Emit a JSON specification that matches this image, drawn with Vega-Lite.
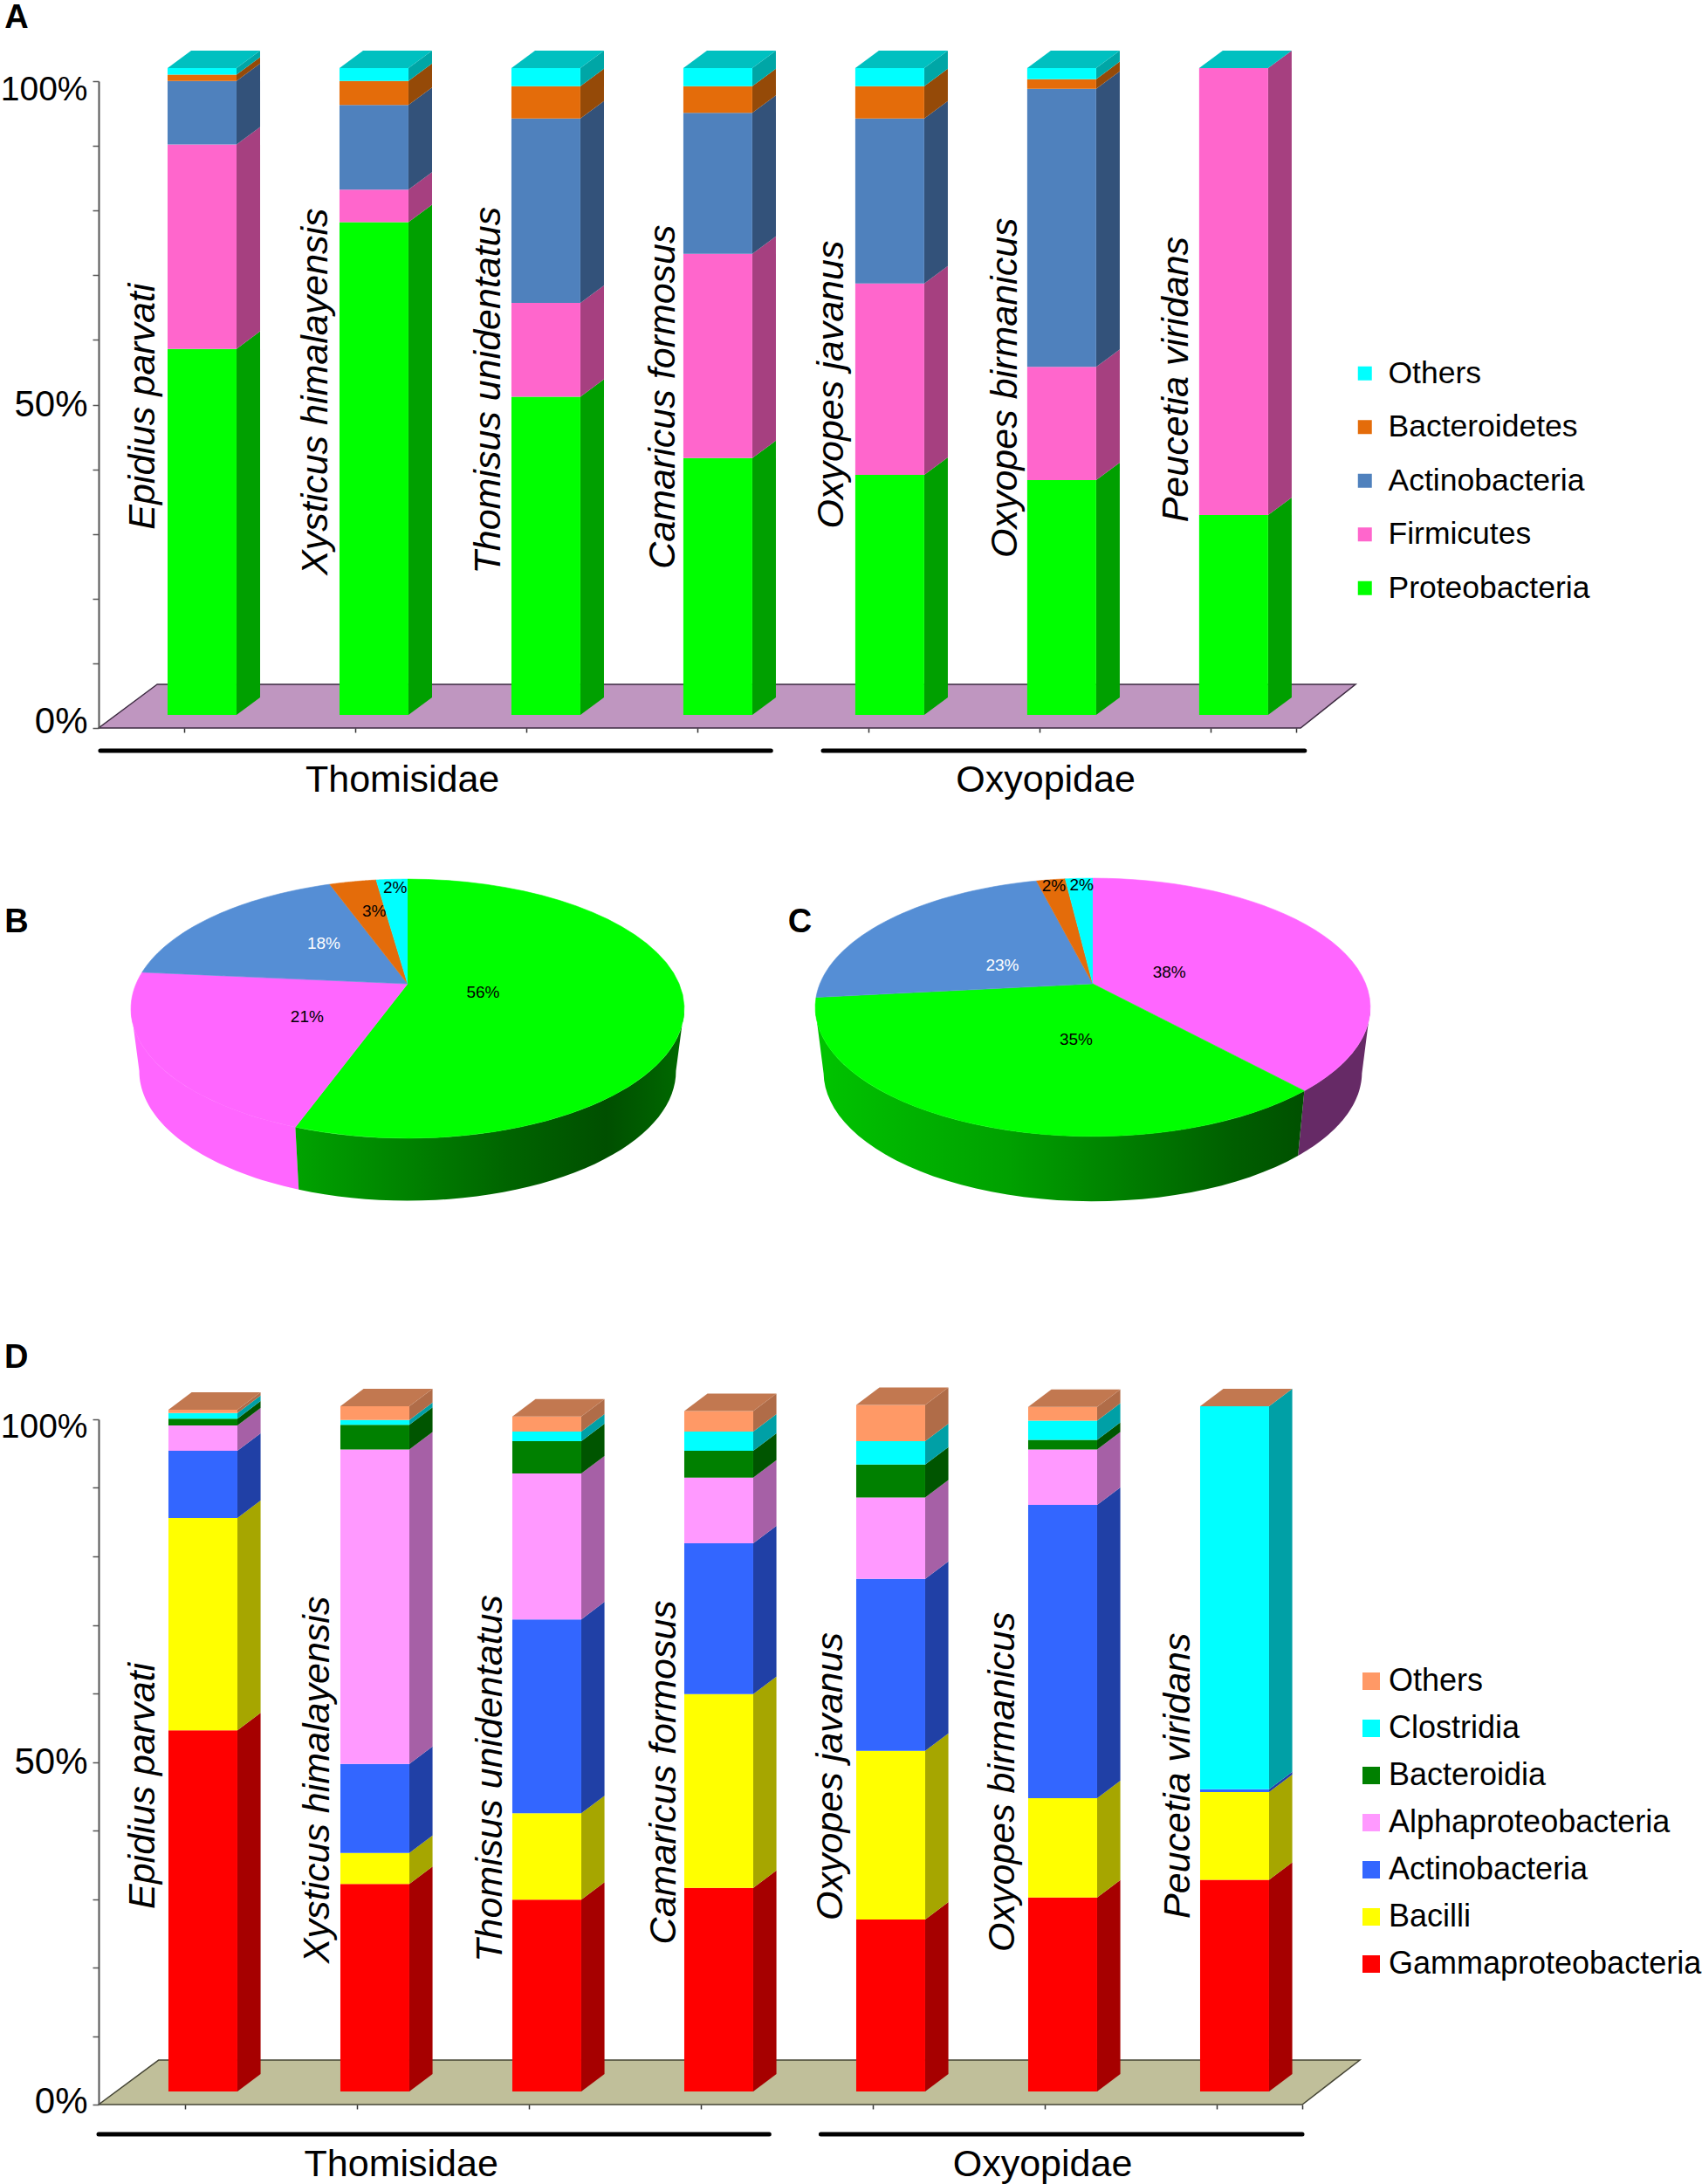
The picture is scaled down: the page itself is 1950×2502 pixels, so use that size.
{"$schema":"https://vega.github.io/schema/vega-lite/v6.json","padding":{"left":0,"top":2,"right":0,"bottom":0},"spacing":0,
"resolve":{"scale":{"fill":"independent","color":"independent","stroke":"independent"},"legend":{"fill":"independent"}},
"config":{"font":"Liberation Sans","view":{"stroke":null},"axis":{"grid":false}},
"datasets":{
"barsA":[
{"species":"Epidius parvati","taxon":"Proteobacteria","value":56.6},{"species":"Epidius parvati","taxon":"Firmicutes","value":31.6},{"species":"Epidius parvati","taxon":"Actinobacteria","value":9.8},{"species":"Epidius parvati","taxon":"Bacteroidetes","value":1.0},{"species":"Epidius parvati","taxon":"Others","value":1.0},
{"species":"Xysticus himalayensis","taxon":"Proteobacteria","value":76.2},{"species":"Xysticus himalayensis","taxon":"Firmicutes","value":5.0},{"species":"Xysticus himalayensis","taxon":"Actinobacteria","value":13.1},{"species":"Xysticus himalayensis","taxon":"Bacteroidetes","value":3.7},{"species":"Xysticus himalayensis","taxon":"Others","value":2.0},
{"species":"Thomisus unidentatus","taxon":"Proteobacteria","value":49.2},{"species":"Thomisus unidentatus","taxon":"Firmicutes","value":14.5},{"species":"Thomisus unidentatus","taxon":"Actinobacteria","value":28.5},{"species":"Thomisus unidentatus","taxon":"Bacteroidetes","value":5.0},{"species":"Thomisus unidentatus","taxon":"Others","value":2.8},
{"species":"Camaricus formosus","taxon":"Proteobacteria","value":39.7},{"species":"Camaricus formosus","taxon":"Firmicutes","value":31.6},{"species":"Camaricus formosus","taxon":"Actinobacteria","value":21.8},{"species":"Camaricus formosus","taxon":"Bacteroidetes","value":4.1},{"species":"Camaricus formosus","taxon":"Others","value":2.8},
{"species":"Oxyopes javanus","taxon":"Proteobacteria","value":37.1},{"species":"Oxyopes javanus","taxon":"Firmicutes","value":29.6},{"species":"Oxyopes javanus","taxon":"Actinobacteria","value":25.5},{"species":"Oxyopes javanus","taxon":"Bacteroidetes","value":5.0},{"species":"Oxyopes javanus","taxon":"Others","value":2.8},
{"species":"Oxyopes birmanicus","taxon":"Proteobacteria","value":36.3},{"species":"Oxyopes birmanicus","taxon":"Firmicutes","value":17.5},{"species":"Oxyopes birmanicus","taxon":"Actinobacteria","value":43.0},{"species":"Oxyopes birmanicus","taxon":"Bacteroidetes","value":1.5},{"species":"Oxyopes birmanicus","taxon":"Others","value":1.7},
{"species":"Peucetia viridans","taxon":"Proteobacteria","value":30.9},{"species":"Peucetia viridans","taxon":"Firmicutes","value":69.1}],
"barsD":[
{"species":"Epidius parvati","taxon":"Gammaproteobacteria","value":52.7},{"species":"Epidius parvati","taxon":"Bacilli","value":31.0},{"species":"Epidius parvati","taxon":"Actinobacteria","value":9.8},{"species":"Epidius parvati","taxon":"Alphaproteobacteria","value":3.7},{"species":"Epidius parvati","taxon":"Bacteroidia","value":1.0},{"species":"Epidius parvati","taxon":"Clostridia","value":0.8},{"species":"Epidius parvati","taxon":"Others","value":0.5},
{"species":"Xysticus himalayensis","taxon":"Gammaproteobacteria","value":30.3},{"species":"Xysticus himalayensis","taxon":"Bacilli","value":4.5},{"species":"Xysticus himalayensis","taxon":"Actinobacteria","value":13.0},{"species":"Xysticus himalayensis","taxon":"Alphaproteobacteria","value":45.9},{"species":"Xysticus himalayensis","taxon":"Bacteroidia","value":3.6},{"species":"Xysticus himalayensis","taxon":"Clostridia","value":0.7},{"species":"Xysticus himalayensis","taxon":"Others","value":2.0},
{"species":"Thomisus unidentatus","taxon":"Gammaproteobacteria","value":28.0},{"species":"Thomisus unidentatus","taxon":"Bacilli","value":12.6},{"species":"Thomisus unidentatus","taxon":"Actinobacteria","value":28.3},{"species":"Thomisus unidentatus","taxon":"Alphaproteobacteria","value":21.3},{"species":"Thomisus unidentatus","taxon":"Bacteroidia","value":4.7},{"species":"Thomisus unidentatus","taxon":"Clostridia","value":1.4},{"species":"Thomisus unidentatus","taxon":"Others","value":2.2},
{"species":"Camaricus formosus","taxon":"Gammaproteobacteria","value":29.7},{"species":"Camaricus formosus","taxon":"Bacilli","value":28.3},{"species":"Camaricus formosus","taxon":"Actinobacteria","value":22.0},{"species":"Camaricus formosus","taxon":"Alphaproteobacteria","value":9.6},{"species":"Camaricus formosus","taxon":"Bacteroidia","value":3.9},{"species":"Camaricus formosus","taxon":"Clostridia","value":2.8},{"species":"Camaricus formosus","taxon":"Others","value":3.0},
{"species":"Oxyopes javanus","taxon":"Gammaproteobacteria","value":25.1},{"species":"Oxyopes javanus","taxon":"Bacilli","value":24.6},{"species":"Oxyopes javanus","taxon":"Actinobacteria","value":25.1},{"species":"Oxyopes javanus","taxon":"Alphaproteobacteria","value":11.9},{"species":"Oxyopes javanus","taxon":"Bacteroidia","value":4.8},{"species":"Oxyopes javanus","taxon":"Clostridia","value":3.4},{"species":"Oxyopes javanus","taxon":"Others","value":5.3},
{"species":"Oxyopes birmanicus","taxon":"Gammaproteobacteria","value":28.3},{"species":"Oxyopes birmanicus","taxon":"Bacilli","value":14.5},{"species":"Oxyopes birmanicus","taxon":"Actinobacteria","value":42.8},{"species":"Oxyopes birmanicus","taxon":"Alphaproteobacteria","value":8.1},{"species":"Oxyopes birmanicus","taxon":"Bacteroidia","value":1.4},{"species":"Oxyopes birmanicus","taxon":"Clostridia","value":2.8},{"species":"Oxyopes birmanicus","taxon":"Others","value":2.0},
{"species":"Peucetia viridans","taxon":"Gammaproteobacteria","value":30.9},{"species":"Peucetia viridans","taxon":"Bacilli","value":12.8},{"species":"Peucetia viridans","taxon":"Actinobacteria","value":0.4},{"species":"Peucetia viridans","taxon":"Clostridia","value":55.9}],
"pieB":[{"taxon":"Proteobacteria","value":55.5},{"taxon":"Firmicutes","value":21.0},{"taxon":"Actinobacteria","value":18.0},{"taxon":"Bacteroidetes","value":3.3},{"taxon":"Others","value":2.2}],
"pieC":[{"taxon":"Firmicutes","value":38.3},{"taxon":"Proteobacteria","value":35.0},{"taxon":"Actinobacteria","value":22.8},{"taxon":"Bacteroidetes","value":2.0},{"taxon":"Others","value":1.9}],
"families":[{"family":"Thomisidae"},{"family":"Oxyopidae"}],
"floor":[{"edge":"front"},{"edge":"back"}]
},
"vconcat":[
{"width":1372,"height":741,"data":{"name":"barsA"},
"transform":[
{"calculate":"indexof(['Proteobacteria','Firmicutes','Actinobacteria','Bacteroidetes','Others'],datum.taxon)","as":"rank"},
{"stack":"value","groupby":["species"],"sort":[{"field":"rank","order":"ascending"}],"as":["y0","y1"]},
{"calculate":"indexof(['Epidius parvati','Xysticus himalayensis','Thomisus unidentatus','Camaricus formosus','Oxyopes javanus','Oxyopes birmanicus','Peucetia viridans'],datum.species)","as":"i"},
{"calculate":"0.403+datum.i*1.005","as":"x0"},{"calculate":"datum.x0+0.403","as":"x1"}],
"layer":[
{"data":{"name":"floor"},"transform":[{"calculate":"datum.edge==='front'?0:6.75","as":"fy"},{"calculate":"datum.edge==='front'?0:0.342","as":"fa"},{"calculate":"datum.edge==='front'?7.026:7.347","as":"fb"}],
"mark":{"type":"area","orient":"horizontal","color":"#bf96c0","stroke":"#3c2a40","strokeWidth":1.5},
"encoding":{"x":{"field":"fa","type":"quantitative","scale":{"domain":[0,7],"nice":false,"zero":false},"axis":{"title":null}},"x2":{"field":"fb"},"y":{"field":"fy","type":"quantitative","scale":{"domain":[0,100],"nice":false,"zero":false},"axis":{"title":null}}}},
{"transform":[{"calculate":"[0,1]","as":"c"},{"flatten":["c"]},{"calculate":"datum.x1+datum.c*0.138","as":"sx"},{"calculate":"datum.y0+2.02+datum.c*2.7","as":"sy0"},{"calculate":"datum.y1+2.02+datum.c*2.7","as":"sy1"}],
"mark":{"type":"area"},
"encoding":{"x":{"field":"sx","type":"quantitative","scale":{"domain":[0,7],"nice":false,"zero":false},"axis":{"title":null}},"y":{"field":"sy0","type":"quantitative","scale":{"domain":[0,100],"nice":false,"zero":false},"axis":{"title":null}},"y2":{"field":"sy1"},"detail":{"field":"species"},
"color":{"field":"taxon","type":"nominal","legend":null,"scale":{"domain":["Proteobacteria","Firmicutes","Actinobacteria","Bacteroidetes","Others"],"range":["#00a000","#a64080","#33527a","#954a08","#00a6a6"]}}}},
{"transform":[{"calculate":"datum.y0+2.02","as":"fy0"},{"calculate":"datum.y1+2.02","as":"fy1"}],
"mark":{"type":"rect"},
"encoding":{"x":{"field":"x0","type":"quantitative","scale":{"domain":[0,7],"nice":false,"zero":false},"axis":{"title":null,"values":[0.5,1.5,2.5,3.5,4.5,5.5,6.5,7],"labels":false,"domain":false,"tickSize":5,"tickColor":"#333333","tickWidth":1.5}},"x2":{"field":"x1"},"y":{"field":"fy0","type":"quantitative","scale":{"domain":[0,100],"nice":false,"zero":false},"axis":{"title":null,"values":[0,10,20,30,40,50,60,70,80,90,100],"labelExpr":"datum.value%50===0?datum.value+'%':''","labelOverlap":false,"labelBound":false,"labelFontSize":{"condition":{"test":"datum.value===100","value":39},"value":42},"labelColor":"black","labelPadding":6,"tickSize":7,"tickColor":"#555555","tickWidth":1.5,"domainColor":"#555555","domainWidth":2,"zindex":1,"labelOffset":{"expr":"datum.value===100?9:datum.value===0?-8:0"}}},"y2":{"field":"fy1"},
"fill":{"field":"taxon","type":"nominal","scale":{"domain":["Others","Bacteroidetes","Actinobacteria","Firmicutes","Proteobacteria"],"range":["#00ffff","#e46c0a","#4f81bd","#ff66cc","#00ff00"]},"legend":{"title":null,"orient":"none","legendX":1433,"legendY":317,"symbolType":"square","symbolSize":256,"symbolStrokeWidth":0,"labelFontSize":35.5,"labelColor":"black","labelLimit":500,"rowPadding":24.5,"labelOffset":9}}}},
{"transform":[{"joinaggregate":[{"op":"max","field":"y1","as":"top"}],"groupby":["species"]},{"filter":"datum.y1===datum.top"},{"calculate":"[0,1]","as":"c"},{"flatten":["c"]},{"calculate":"datum.top+2.02+datum.c*2.7","as":"cy"},{"calculate":"datum.x0+datum.c*0.138","as":"ca"},{"calculate":"datum.x1+datum.c*0.138","as":"cb"}],
"mark":{"type":"area","orient":"horizontal","color":"#00c0c0"},
"encoding":{"x":{"field":"ca","type":"quantitative","scale":{"domain":[0,7],"nice":false,"zero":false},"axis":{"title":null}},"x2":{"field":"cb"},"y":{"field":"cy","type":"quantitative","scale":{"domain":[0,100],"nice":false,"zero":false},"axis":{"title":null}},"detail":{"field":"species"}}},
{"transform":[{"filter":"datum.rank===0"},{"calculate":"[0.262,1.272,2.283,3.299,4.284,5.301,6.303][datum.i]","as":"tx"},{"calculate":"[49.7,52,52.2,51.2,53.1,52.6,53.9][datum.i]","as":"ty"}],
"mark":{"type":"text","angle":270,"fontStyle":"italic","fontSize":43,"align":"center","baseline":"middle","color":"black"},
"encoding":{"x":{"field":"tx","type":"quantitative","scale":{"domain":[0,7],"nice":false,"zero":false},"axis":{"title":null}},"y":{"field":"ty","type":"quantitative","scale":{"domain":[0,100],"nice":false,"zero":false},"axis":{"title":null}},"text":{"field":"species"}}},
{"data":{"name":"families"},"transform":[{"calculate":"datum.family==='Thomisidae'?0.01:4.235","as":"a"},{"calculate":"datum.family==='Thomisidae'?3.93:7.05","as":"b"},{"calculate":"-3.5","as":"ry"}],
"mark":{"type":"rule","strokeWidth":5,"strokeCap":"round","color":"black"},
"encoding":{"x":{"field":"a","type":"quantitative","scale":{"domain":[0,7],"nice":false,"zero":false},"axis":{"title":null}},"x2":{"field":"b"},"y":{"field":"ry","type":"quantitative","scale":{"domain":[0,100],"nice":false,"zero":false},"axis":{"title":null}}}},
{"data":{"name":"families"},"transform":[{"calculate":"datum.family==='Thomisidae'?1.776:5.536","as":"tx"},{"calculate":"-8.1","as":"ty"}],
"mark":{"type":"text","fontSize":43,"align":"center","baseline":"middle","color":"black"},
"encoding":{"x":{"field":"tx","type":"quantitative","scale":{"domain":[0,7],"nice":false,"zero":false},"axis":{"title":null}},"y":{"field":"ty","type":"quantitative","scale":{"domain":[0,100],"nice":false,"zero":false},"axis":{"title":null}},"text":{"field":"family"}}},
{"data":{"values":[{"panel":"A"}]},
"mark":{"type":"text","fontSize":38,"fontWeight":"bold","align":"left","baseline":"alphabetic","color":"black"},
"encoding":{"x":{"datum":-0.55,"type":"quantitative","scale":{"domain":[0,7],"nice":false,"zero":false},"axis":{"title":null}},"y":{"datum":108.2,"type":"quantitative","scale":{"domain":[0,100],"nice":false,"zero":false},"axis":{"title":null}},"text":{"field":"panel"}}}
]},
{"width":1600,"height":620,
"layer":[
{"data":{"name":"pieB"},"transform":[{"stack":"value","groupby":[],"as":["v0","v1"]},{"filter":"datum.taxon==='Firmicutes'"},{"calculate":"max(datum.v0*3.6,101)","as":"a0"},{"calculate":"min(datum.v1*3.6,259)","as":"a1"},{"calculate":"sequence(0,82)","as":"p"},{"flatten":["p"]},{"calculate":"PI/180*(datum.p<=40?datum.a0+(datum.a1-datum.a0)*datum.p/40:datum.a1-(datum.a1-datum.a0)*(datum.p-41)/40)","as":"th"},{"calculate":"0.997*(datum.p<=40?1:0.97)*sin(datum.th)/(1+0.192*cos(datum.th))","as":"X"},{"calculate":"cos(datum.th)/(1+0.192*cos(datum.th))-(datum.p<=40?0:0.5)","as":"Y"}],
"mark":{"type":"line","fill":"#ff66ff","strokeWidth":0},
"encoding":{"x":{"field":"X","type":"quantitative","scale":{"domain":[-1.1346,3.9936],"nice":false,"zero":false},"axis":null},"y":{"field":"Y","type":"quantitative","scale":{"domain":[-2.867,1.469],"nice":false,"zero":false},"axis":null},"order":{"field":"p","type":"quantitative"}}},
{"data":{"name":"pieB"},"transform":[{"stack":"value","groupby":[],"as":["v0","v1"]},{"filter":"datum.taxon==='Proteobacteria'"},{"calculate":"max(datum.v0*3.6,101)","as":"a0"},{"calculate":"min(datum.v1*3.6,259)","as":"a1"},{"calculate":"sequence(0,82)","as":"p"},{"flatten":["p"]},{"calculate":"PI/180*(datum.p<=40?datum.a0+(datum.a1-datum.a0)*datum.p/40:datum.a1-(datum.a1-datum.a0)*(datum.p-41)/40)","as":"th"},{"calculate":"0.997*(datum.p<=40?1:0.97)*sin(datum.th)/(1+0.192*cos(datum.th))","as":"X"},{"calculate":"cos(datum.th)/(1+0.192*cos(datum.th))-(datum.p<=40?0:0.5)","as":"Y"}],
"mark":{"type":"line","strokeWidth":0,"fill":{"gradient":"linear","x1":1,"x2":0,"y1":0,"y2":0,"stops":[{"offset":0,"color":"#006a00"},{"offset":0.2,"color":"#004f00"},{"offset":0.45,"color":"#006400"},{"offset":1,"color":"#00a300"}]}},
"encoding":{"x":{"field":"X","type":"quantitative","scale":{"domain":[-1.1346,3.9936],"nice":false,"zero":false},"axis":null},"y":{"field":"Y","type":"quantitative","scale":{"domain":[-2.867,1.469],"nice":false,"zero":false},"axis":null},"order":{"field":"p","type":"quantitative"}}},
{"data":{"name":"pieC"},"transform":[{"stack":"value","groupby":[],"as":["v0","v1"]},{"filter":"datum.taxon==='Firmicutes'"},{"calculate":"max(datum.v0*3.6,101)","as":"a0"},{"calculate":"min(datum.v1*3.6,259)","as":"a1"},{"calculate":"sequence(0,82)","as":"p"},{"flatten":["p"]},{"calculate":"PI/180*(datum.p<=40?datum.a0+(datum.a1-datum.a0)*datum.p/40:datum.a1-(datum.a1-datum.a0)*(datum.p-41)/40)","as":"th"},{"calculate":"2.516+1.002*(datum.p<=40?1:0.97)*sin(datum.th)/(1+0.182*cos(datum.th))","as":"X"},{"calculate":"cos(datum.th)/(1+0.182*cos(datum.th))-(datum.p<=40?0:0.52)","as":"Y"}],
"mark":{"type":"line","fill":"#662a66","strokeWidth":0},
"encoding":{"x":{"field":"X","type":"quantitative","scale":{"domain":[-1.1346,3.9936],"nice":false,"zero":false},"axis":null},"y":{"field":"Y","type":"quantitative","scale":{"domain":[-2.867,1.469],"nice":false,"zero":false},"axis":null},"order":{"field":"p","type":"quantitative"}}},
{"data":{"name":"pieC"},"transform":[{"stack":"value","groupby":[],"as":["v0","v1"]},{"filter":"datum.taxon==='Proteobacteria'"},{"calculate":"max(datum.v0*3.6,101)","as":"a0"},{"calculate":"min(datum.v1*3.6,259)","as":"a1"},{"calculate":"sequence(0,82)","as":"p"},{"flatten":["p"]},{"calculate":"PI/180*(datum.p<=40?datum.a0+(datum.a1-datum.a0)*datum.p/40:datum.a1-(datum.a1-datum.a0)*(datum.p-41)/40)","as":"th"},{"calculate":"2.516+1.002*(datum.p<=40?1:0.97)*sin(datum.th)/(1+0.182*cos(datum.th))","as":"X"},{"calculate":"cos(datum.th)/(1+0.182*cos(datum.th))-(datum.p<=40?0:0.52)","as":"Y"}],
"mark":{"type":"line","strokeWidth":0,"fill":{"gradient":"linear","x1":1,"x2":0,"y1":0,"y2":0,"stops":[{"offset":0,"color":"#005000"},{"offset":0.15,"color":"#005f00"},{"offset":0.6,"color":"#00a000"},{"offset":1,"color":"#00c400"}]}},
"encoding":{"x":{"field":"X","type":"quantitative","scale":{"domain":[-1.1346,3.9936],"nice":false,"zero":false},"axis":null},"y":{"field":"Y","type":"quantitative","scale":{"domain":[-2.867,1.469],"nice":false,"zero":false},"axis":null},"order":{"field":"p","type":"quantitative"}}},
{"data":{"name":"pieB"},"transform":[{"stack":"value","groupby":[],"as":["v0","v1"]},{"calculate":"sequence(0,42)","as":"p"},{"flatten":["p"]},{"calculate":"PI/180*3.6*(datum.v0+(datum.v1-datum.v0)*(datum.p-1)/40)","as":"th"},{"calculate":"datum.p===0?0:0.997*sin(datum.th)/(1+0.192*cos(datum.th))","as":"X"},{"calculate":"datum.p===0?0:cos(datum.th)/(1+0.192*cos(datum.th))","as":"Y"}],
"mark":{"type":"line","strokeWidth":0.6},
"encoding":{"x":{"field":"X","type":"quantitative","scale":{"domain":[-1.1346,3.9936],"nice":false,"zero":false},"axis":null},"y":{"field":"Y","type":"quantitative","scale":{"domain":[-2.867,1.469],"nice":false,"zero":false},"axis":null},"order":{"field":"p","type":"quantitative"},
"fill":{"field":"taxon","type":"nominal","legend":null,"scale":{"domain":["Others","Bacteroidetes","Actinobacteria","Firmicutes","Proteobacteria"],"range":["#00ffff","#e46c0a","#558ed5","#ff66ff","#00ff00"]}},
"stroke":{"field":"taxon","type":"nominal","legend":null,"scale":{"domain":["Others","Bacteroidetes","Actinobacteria","Firmicutes","Proteobacteria"],"range":["#00ffff","#e46c0a","#558ed5","#ff66ff","#00ff00"]}}}},
{"data":{"name":"pieC"},"transform":[{"stack":"value","groupby":[],"as":["v0","v1"]},{"calculate":"sequence(0,42)","as":"p"},{"flatten":["p"]},{"calculate":"PI/180*3.6*(datum.v0+(datum.v1-datum.v0)*(datum.p-1)/40)","as":"th"},{"calculate":"2.516+(datum.p===0?0:1.002*sin(datum.th)/(1+0.182*cos(datum.th)))","as":"X"},{"calculate":"datum.p===0?0:cos(datum.th)/(1+0.182*cos(datum.th))","as":"Y"}],
"mark":{"type":"line","strokeWidth":0.6},
"encoding":{"x":{"field":"X","type":"quantitative","scale":{"domain":[-1.1346,3.9936],"nice":false,"zero":false},"axis":null},"y":{"field":"Y","type":"quantitative","scale":{"domain":[-2.867,1.469],"nice":false,"zero":false},"axis":null},"order":{"field":"p","type":"quantitative"},
"fill":{"field":"taxon","type":"nominal","legend":null,"scale":{"domain":["Others","Bacteroidetes","Actinobacteria","Firmicutes","Proteobacteria"],"range":["#00ffff","#e46c0a","#558ed5","#ff66ff","#00ff00"]}},
"stroke":{"field":"taxon","type":"nominal","legend":null,"scale":{"domain":["Others","Bacteroidetes","Actinobacteria","Firmicutes","Proteobacteria"],"range":["#00ffff","#e46c0a","#558ed5","#ff66ff","#00ff00"]}}}},
{"data":{"name":"pieB"},"transform":[{"calculate":"{'Proteobacteria':0.277,'Firmicutes':-0.369,'Actinobacteria':-0.308,'Bacteroidetes':-0.123,'Others':-0.046}[datum.taxon]","as":"lx"},{"calculate":"{'Proteobacteria':-0.067,'Firmicutes':-0.268,'Actinobacteria':0.324,'Bacteroidetes':0.58,'Others':0.77}[datum.taxon]","as":"ly"},{"calculate":"format(datum.value,'.0f')+'%'","as":"label"}],
"mark":{"type":"text","fontSize":19,"align":"center","baseline":"middle"},
"encoding":{"x":{"field":"lx","type":"quantitative","scale":{"domain":[-1.1346,3.9936],"nice":false,"zero":false},"axis":null},"y":{"field":"ly","type":"quantitative","scale":{"domain":[-2.867,1.469],"nice":false,"zero":false},"axis":null},"text":{"field":"label"},"color":{"condition":{"test":"datum.taxon==='Actinobacteria'","value":"white"},"value":"black"}}},
{"data":{"name":"pieC"},"transform":[{"calculate":"2.516+{'Firmicutes':0.281,'Proteobacteria':-0.061,'Actinobacteria':-0.332,'Bacteroidetes':-0.143,'Others':-0.041}[datum.taxon]","as":"lx"},{"calculate":"{'Firmicutes':0.089,'Proteobacteria':-0.446,'Actinobacteria':0.145,'Bacteroidetes':0.781,'Others':0.792}[datum.taxon]","as":"ly"},{"calculate":"format(datum.value,'.0f')+'%'","as":"label"}],
"mark":{"type":"text","fontSize":19,"align":"center","baseline":"middle"},
"encoding":{"x":{"field":"lx","type":"quantitative","scale":{"domain":[-1.1346,3.9936],"nice":false,"zero":false},"axis":null},"y":{"field":"ly","type":"quantitative","scale":{"domain":[-2.867,1.469],"nice":false,"zero":false},"axis":null},"text":{"field":"label"},"color":{"condition":{"test":"datum.taxon==='Actinobacteria'","value":"white"},"value":"black"}}},
{"data":{"values":[{"panel":"B","px":-1.48},{"panel":"C","px":1.397}]},
"mark":{"type":"text","fontSize":38,"fontWeight":"bold","align":"left","baseline":"alphabetic","color":"black"},
"encoding":{"x":{"field":"px","type":"quantitative","scale":{"domain":[-1.1346,3.9936],"nice":false,"zero":false},"axis":null},"y":{"datum":0.41,"type":"quantitative","scale":{"domain":[-2.867,1.469],"nice":false,"zero":false},"axis":null},"text":{"field":"panel"}}}
]},
{"width":1379,"height":785,"data":{"name":"barsD"},
"transform":[
{"calculate":"indexof(['Gammaproteobacteria','Bacilli','Actinobacteria','Alphaproteobacteria','Bacteroidia','Clostridia','Others'],datum.taxon)","as":"rank"},
{"stack":"value","groupby":["species"],"sort":[{"field":"rank","order":"ascending"}],"as":["y0","y1"]},
{"calculate":"indexof(['Epidius parvati','Xysticus himalayensis','Thomisus unidentatus','Camaricus formosus','Oxyopes javanus','Oxyopes birmanicus','Peucetia viridans'],datum.species)","as":"i"},
{"calculate":"0.406+datum.i","as":"x0"},{"calculate":"datum.x0+0.401","as":"x1"}],
"layer":[
{"data":{"name":"floor"},"transform":[{"calculate":"datum.edge==='front'?0:6.5","as":"fy"},{"calculate":"datum.edge==='front'?0:0.35","as":"fa"},{"calculate":"datum.edge==='front'?7:7.335","as":"fb"}],
"mark":{"type":"area","orient":"horizontal","color":"#c0bf9a","stroke":"#454535","strokeWidth":1.5},
"encoding":{"x":{"field":"fa","type":"quantitative","scale":{"domain":[0,7],"nice":false,"zero":false},"axis":{"title":null}},"x2":{"field":"fb"},"y":{"field":"fy","type":"quantitative","scale":{"domain":[0,100],"nice":false,"zero":false},"axis":{"title":null}}}},
{"transform":[{"calculate":"[0,1]","as":"c"},{"flatten":["c"]},{"calculate":"datum.x1+datum.c*0.135","as":"sx"},{"calculate":"datum.y0+1.91+datum.c*2.55","as":"sy0"},{"calculate":"datum.y1+1.91+datum.c*2.55","as":"sy1"}],
"mark":{"type":"area"},
"encoding":{"x":{"field":"sx","type":"quantitative","scale":{"domain":[0,7],"nice":false,"zero":false},"axis":{"title":null}},"y":{"field":"sy0","type":"quantitative","scale":{"domain":[0,100],"nice":false,"zero":false},"axis":{"title":null}},"y2":{"field":"sy1"},"detail":{"field":"species"},
"color":{"field":"taxon","type":"nominal","legend":null,"scale":{"domain":["Gammaproteobacteria","Bacilli","Actinobacteria","Alphaproteobacteria","Bacteroidia","Clostridia","Others"],"range":["#a60000","#a6a600","#2040a6","#a660a6","#005500","#00a0a6","#b06c48"]}}}},
{"transform":[{"calculate":"datum.y0+1.91","as":"fy0"},{"calculate":"datum.y1+1.91","as":"fy1"}],
"mark":{"type":"rect"},
"encoding":{"x":{"field":"x0","type":"quantitative","scale":{"domain":[0,7],"nice":false,"zero":false},"axis":{"title":null,"values":[0.5,1.5,2.5,3.5,4.5,5.5,6.5,7],"labels":false,"domain":false,"tickSize":5,"tickColor":"#333333","tickWidth":1.5}},"x2":{"field":"x1"},"y":{"field":"fy0","type":"quantitative","scale":{"domain":[0,100],"nice":false,"zero":false},"axis":{"title":null,"values":[0,10,20,30,40,50,60,70,80,90,100],"labelExpr":"datum.value%50===0?datum.value+'%':''","labelOverlap":false,"labelBound":false,"labelFontSize":{"condition":{"test":"datum.value===100","value":39},"value":42},"labelColor":"black","labelPadding":6,"tickSize":7,"tickColor":"#555555","tickWidth":1.5,"domainColor":"#555555","domainWidth":2,"zindex":1,"labelOffset":{"expr":"datum.value===100?8:datum.value===0?-4:0"}}},"y2":{"field":"fy1"},
"fill":{"field":"taxon","type":"nominal","scale":{"domain":["Others","Clostridia","Bacteroidia","Alphaproteobacteria","Actinobacteria","Bacilli","Gammaproteobacteria"],"range":["#ff9966","#00ffff","#008000","#ff99ff","#3366ff","#ffff00","#ff0000"]},"legend":{"title":null,"orient":"none","legendX":1440,"legendY":282,"symbolType":"square","symbolSize":400,"symbolStrokeWidth":0,"labelFontSize":36,"labelColor":"black","labelLimit":500,"rowPadding":18,"labelOffset":2}}}},
{"transform":[{"joinaggregate":[{"op":"max","field":"y1","as":"top"}],"groupby":["species"]},{"filter":"datum.y1===datum.top"},{"calculate":"[0,1]","as":"c"},{"flatten":["c"]},{"calculate":"datum.top+1.91+datum.c*2.55","as":"cy"},{"calculate":"datum.x0+datum.c*0.135","as":"ca"},{"calculate":"datum.x1+datum.c*0.135","as":"cb"}],
"mark":{"type":"area","orient":"horizontal","color":"#c27850"},
"encoding":{"x":{"field":"ca","type":"quantitative","scale":{"domain":[0,7],"nice":false,"zero":false},"axis":{"title":null}},"x2":{"field":"cb"},"y":{"field":"cy","type":"quantitative","scale":{"domain":[0,100],"nice":false,"zero":false},"axis":{"title":null}},"detail":{"field":"species"}}},
{"transform":[{"filter":"datum.rank===0"},{"calculate":"[0.261,1.273,2.278,3.29,4.26,5.26,6.28][datum.i]","as":"tx"},{"calculate":"[46.5,47.4,47.6,48.5,47.9,47.1,48][datum.i]","as":"ty"}],
"mark":{"type":"text","angle":270,"fontStyle":"italic","fontSize":43,"align":"center","baseline":"middle","color":"black"},
"encoding":{"x":{"field":"tx","type":"quantitative","scale":{"domain":[0,7],"nice":false,"zero":false},"axis":{"title":null}},"y":{"field":"ty","type":"quantitative","scale":{"domain":[0,100],"nice":false,"zero":false},"axis":{"title":null}},"text":{"field":"species"}}},
{"data":{"name":"families"},"transform":[{"calculate":"datum.family==='Thomisidae'?0:4.2","as":"a"},{"calculate":"datum.family==='Thomisidae'?3.9:7","as":"b"},{"calculate":"-4.33","as":"ry"}],
"mark":{"type":"rule","strokeWidth":5,"strokeCap":"round","color":"black"},
"encoding":{"x":{"field":"a","type":"quantitative","scale":{"domain":[0,7],"nice":false,"zero":false},"axis":{"title":null}},"x2":{"field":"b"},"y":{"field":"ry","type":"quantitative","scale":{"domain":[0,100],"nice":false,"zero":false},"axis":{"title":null}}}},
{"data":{"name":"families"},"transform":[{"calculate":"datum.family==='Thomisidae'?1.76:5.49","as":"tx"},{"calculate":"-8.8","as":"ty"}],
"mark":{"type":"text","fontSize":43,"align":"center","baseline":"middle","color":"black"},
"encoding":{"x":{"field":"tx","type":"quantitative","scale":{"domain":[0,7],"nice":false,"zero":false},"axis":{"title":null}},"y":{"field":"ty","type":"quantitative","scale":{"domain":[0,100],"nice":false,"zero":false},"axis":{"title":null}},"text":{"field":"family"}}},
{"data":{"values":[{"panel":"D"}]},
"mark":{"type":"text","fontSize":38,"fontWeight":"bold","align":"left","baseline":"alphabetic","color":"black"},
"encoding":{"x":{"datum":-0.548,"type":"quantitative","scale":{"domain":[0,7],"nice":false,"zero":false},"axis":{"title":null}},"y":{"datum":107.5,"type":"quantitative","scale":{"domain":[0,100],"nice":false,"zero":false},"axis":{"title":null}},"text":{"field":"panel"}}}
]}
]}
